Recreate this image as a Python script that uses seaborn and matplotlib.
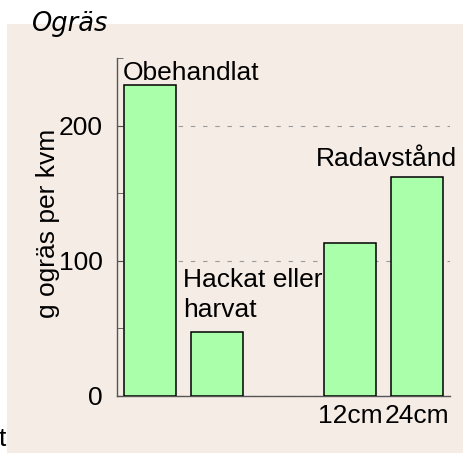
import matplotlib
matplotlib.use("Agg")

import matplotlib.pyplot as plt
import matplotlib.ticker as mticker
from matplotlib.patches import Rectangle
import numpy as np
import pandas as pd
import seaborn as sns

# -- data ------------------------------------------------------------
categories = ["Obehandlat", "Hackat eller harvat", "tom", "12cm", "24cm"]
values = [230, 47, np.nan, 113, 162]
tick_labels = ["", "", "", "12cm", "24cm"]
y_major = [0, 100, 200]
y_minor = [50, 150, 250]

# -- style -----------------------------------------------------------
sns.set_style("white")
plt.rcParams.update({
    "font.family": ["Liberation Sans", "DejaVu Sans"],
    "font.size": 19,
    "text.color": "black",
    "axes.labelcolor": "black",
    "xtick.color": "black",
    "ytick.color": "black",
})

PANEL = "#F5ECE6"
BAR = "#AAFFAA"
SPINE = "#555555"

df = pd.DataFrame({"kategori": categories, "varde": values})

fig = plt.figure(figsize=(4.64, 4.53), dpi=100)
fig.patch.set_facecolor("white")
fig.patches.append(Rectangle((7 / 464, 0), 1, (453 - 24) / 453,
                             transform=fig.transFigure, facecolor=PANEL,
                             edgecolor="none", zorder=-5))

ax = fig.add_axes([117 / 464, 1 - 395.5 / 453, 333 / 464, 337.5 / 453])
ax.set_facecolor("none")
ax.set_zorder(2)

sns.barplot(data=df, x="kategori", y="varde", order=categories,
            color=BAR, saturation=1, width=0.78,
            edgecolor="black", linewidth=1.1, ax=ax, zorder=3)

ax.set_xlim(-0.5, len(categories) - 0.5)
ax.set_ylim(0, 250)
ax.yaxis.set_major_locator(mticker.FixedLocator(y_major))
ax.yaxis.set_minor_locator(mticker.FixedLocator(y_minor))
ax.set_xticks(range(len(categories)))
ax.set_xticklabels(tick_labels)
ax.tick_params(axis="x", length=0, pad=6, labelsize=19)
ax.tick_params(axis="y", which="both", direction="in", length=4,
               color=SPINE, pad=10, labelsize=19, left=True)
ax.yaxis.grid(True, which="major", linestyle=(0, (4, 7)),
              color="#9a9a9a", linewidth=0.8, zorder=0)
ax.set_axisbelow(True)

for side in ["top", "right"]:
    ax.spines[side].set_visible(False)
for side in ["left", "bottom"]:
    ax.spines[side].set_color(SPINE)
    ax.spines[side].set_linewidth(1.0)

ax.set_xlabel("")
ax.set_ylabel("g ogräs per kvm", fontsize=19)
ax.yaxis.set_label_coords(-0.17, 0.51)

# annotations
ax.text(-0.41, values[0] + 4, "Obehandlat", ha="left", va="baseline")
ax.text(0.49, 58, "Hackat eller\nharvat", ha="left", va="baseline",
        linespacing=1.35)
ax.text(3.55, 170, "Radavstånd", ha="center", va="baseline")

fig.text(32 / 464, 1 - 31 / 453, "Ogräs", fontsize=18.5, style="italic",
         family="DejaVu Sans", ha="left", va="baseline")
fig.text(-1 / 464, 1 - 446 / 453, "t", fontsize=19, ha="left", va="baseline")

fig.savefig("out.png", dpi=100)
